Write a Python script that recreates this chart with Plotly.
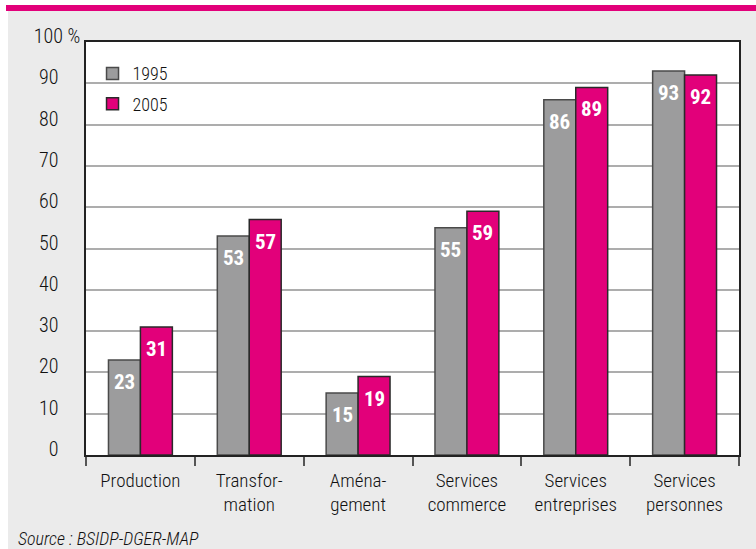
import plotly.graph_objects as go

categories = ["Production", "Transfor-<br>mation", "Aména-<br>gement",
              "Services<br>commerce", "Services<br>entreprises", "Services<br>personnes"]
values_1995 = [23, 53, 15, 55, 86, 93]
values_2005 = [31, 57, 19, 59, 89, 92]
series_names = ["1995", "2005"]
y_tickvals = [0, 10, 20, 30, 40, 50, 60, 70, 80, 90, 100]
y_ticktext = ["0", "10", "20", "30", "40", "50", "60", "70", "80", "90", "100 %"]
source_text = "Source : BSIDP-DGER-MAP"

FONT = "Roboto Condensed, Liberation Sans Narrow, sans-serif"
GRAY = "#9c9c9d"
PINK = "#e2007a"
TXT = "#111111"
PAD = "\u00a0" * 4 + "\u2009"

fig = go.Figure()
fig.add_trace(go.Bar(x=categories, y=values_1995, name=series_names[0],
                     marker=dict(color=GRAY, line=dict(color="#4a4a4a", width=1.5)),
                     legendgroup="a"))
fig.add_trace(go.Bar(x=categories, y=values_2005, name=series_names[1],
                     marker=dict(color=PINK, line=dict(color="#2a2a2a", width=1.5)),
                     legendgroup="b"))

annotations = []
for vals, shift in ((values_1995, -16), (values_2005, 16)):
    for c, v in zip(categories, vals):
        annotations.append(dict(x=c, y=v, xref="x", yref="y", text=f"<b>{v}</b>",
                                showarrow=False, xshift=shift, yshift=-22,
                                yanchor="middle", xanchor="center",
                                font=dict(family=FONT, size=21, color="white")))
annotations.append(dict(x=(16 - 86) / 653, y=(455 - 538) / 413, xref="paper", yref="paper",
                        xanchor="left", yanchor="middle", showarrow=False,
                        text=f"<i>{source_text}</i>",
                        font=dict(family=FONT, size=18, color=TXT, weight=300)))

ticktext = [t if t.endswith("%") else t + PAD for t in y_ticktext]

fig.update_layout(
    width=756, height=549,
    margin=dict(l=86, r=17, t=42, b=94, pad=0),
    paper_bgcolor="#ebebeb", plot_bgcolor="white",
    barmode="group", bargap=0.413, bargroupgap=0,
    font=dict(family=FONT, size=20, color=TXT),
    showlegend=True,
    legend=dict(x=0.01, y=0.968, xanchor="left", yanchor="top",
                bgcolor="rgba(0,0,0,0)", font=dict(family=FONT, size=18, color=TXT, weight=300),
                tracegroupgap=4, traceorder="grouped"),
    xaxis=dict(type="category", showline=True, mirror=True, linecolor="#222", linewidth=1.5,
               ticks="outside", tickson="boundaries", ticklen=9, tickcolor="#555",
               tickwidth=1.5, showgrid=False, tickangle=0, automargin=False,
               ticklabelstandoff=7,
               tickfont=dict(family=FONT, size=19, color=TXT, weight=300)),
    yaxis=dict(range=[0, 100], tickvals=y_tickvals, ticktext=ticktext,
               showline=True, mirror=True, linecolor="#222", linewidth=1.5,
               showgrid=True, gridcolor="#adadad", gridwidth=1.5, automargin=False,
               ticks="", ticklabelstandoff=0, ticklabelshift=-6, zeroline=False,
               tickfont=dict(family=FONT, size=20, color=TXT, weight=300)),
    annotations=annotations,
    shapes=[
        dict(type="rect", xref="paper", yref="paper", layer="below",
             x0=-0.2, x1=1.1, y0=(455 - 5) / 413, y1=1.2, fillcolor="white", line_width=0),
        dict(type="rect", xref="paper", yref="paper", layer="below",
             x0=-0.2, x1=(8 - 86) / 653, y0=-0.3, y1=1.2, fillcolor="white", line_width=0),
        dict(type="rect", xref="paper", yref="paper", layer="below",
             x0=(6 - 86) / 653, x1=1.1, y0=(455 - 11) / 413, y1=(455 - 5) / 413,
             fillcolor=PINK, line_width=0),
    ],
)

fig.write_html("out.html", config={"displayModeBar": False},
               post_script="document.body.style.margin='0';")
